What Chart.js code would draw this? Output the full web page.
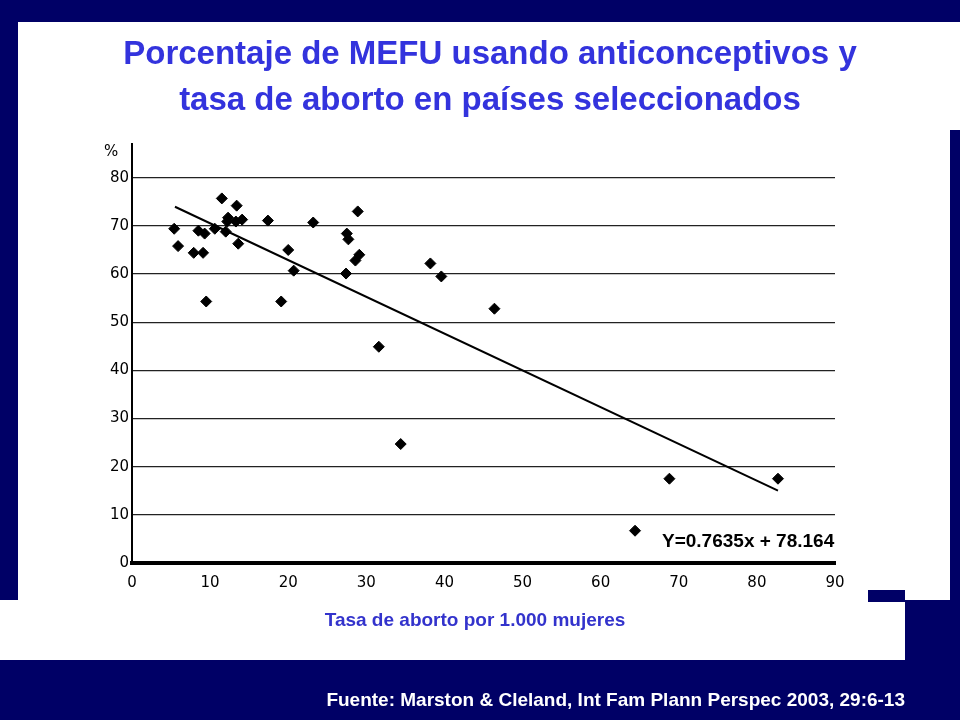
<!DOCTYPE html>
<html><head><meta charset="utf-8">
<script src="https://cdn.jsdelivr.net/npm/chart.js@4"></script>
<style>
body{margin:0;width:960px;height:720px;background:#000066;position:relative;overflow:hidden;font-family:Arial,"Liberation Sans",sans-serif}
.w{position:absolute;background:#fff}
#title{position:absolute;left:10px;top:30px;width:960px;text-align:center;color:#3333dd;font-weight:bold;font-size:33px;line-height:46px}
#eq{position:absolute;left:662px;top:530px;font-weight:bold;font-size:19px}
#xt{position:absolute;left:0;width:950px;top:609px;text-align:center;color:#3333cc;font-weight:bold;font-size:19px}
#src{position:absolute;right:55px;top:689px;color:#fff;font-weight:bold;font-size:19px}
#pct{position:absolute;left:104px;top:142px;font-size:15px;font-family:"DejaVu Sans",sans-serif}
canvas{position:absolute;left:0;top:0}
</style></head><body>
<div class="w" style="left:18px;top:22px;width:942px;height:108px"></div>
<div class="w" style="left:18px;top:22px;width:932px;height:578px"></div>
<div class="w" style="left:0;top:600px;width:905px;height:60px"></div>
<div class="w" style="left:868px;top:590px;width:37px;height:12px;background:#000066"></div>
<canvas id="c" width="960" height="720"></canvas>
<div id="title">Porcentaje de MEFU usando anticonceptivos y<br>tasa de aborto en países seleccionados</div>
<div id="pct">%</div>
<div id="eq">Y=0.7635x + 78.164</div>
<div id="xt">Tasa de aborto por 1.000 mujeres</div>
<div id="src">Fuente: Marston &amp; Cleland, Int Fam Plann Perspec 2003, 29:6-13</div>
<script>
const abortionRate = [5.4,5.9,7.9,8.5,9.1,9.3,9.5,10.6,11.5,12,12.3,12.2,13.4,13.6,13.3,14.1,17.4,20,20.7,19.1,23.2,27.5,27.7,27.4,28.9,28.6,29.1,31.6,34.4,38.2,39.6,46.4,64.4,68.8,82.7];
const contraUse    = [69.4,65.8,64.4,69,64.4,68.4,54.3,69.4,75.7,68.8,71.7,70.9,74.2,66.3,70.9,71.3,71.1,65,60.7,54.3,70.7,68.4,67.2,60.1,73,62.8,64,44.9,24.7,62.2,59.5,52.8,6.7,17.5,17.5];
const trendX = [5.5, 82.7];
const slope = -0.7635, intercept = 78.164;

const points = abortionRate.map((x, i) => ({x, y: contraUse[i]}));
const trend = trendX.map(x => ({x, y: intercept + slope * x}));

new Chart(document.getElementById('c'), {
  type: 'scatter',
  data: { datasets: [
    { data: points, pointStyle: 'rectRot', pointRadius: 5.5, backgroundColor: '#000', borderColor: '#000' },
    { type: 'line', data: trend, borderColor: '#000', borderWidth: 2, pointRadius: 0, fill: false }
  ]},
  options: {
    responsive: false, animation: false,
    layout: { padding: { left: 92, right: 125, top: 144, bottom: 127 } },
    plugins: { legend: { display: false }, tooltip: { enabled: false } },
    scales: {
      x: { min: 0, max: 90, ticks: { stepSize: 10, color: '#000', font: { size: 15, family: 'DejaVu Sans' } },
           grid: { display: false }, border: { color: '#000', width: 4 },
           afterFit: s => { s.height = 30; } },
      y: { min: 0, max: 87,
           afterBuildTicks: s => { s.ticks = s.ticks.filter(t => t.value % 10 === 0); },
           ticks: { stepSize: 10, color: '#000', font: { size: 15, family: 'DejaVu Sans' } },
           grid: { color: '#222', lineWidth: 1.2, drawTicks: false }, border: { color: '#000', width: 2 },
           afterFit: s => { s.width = 40; } }
    }
  }
});
</script>
</body></html>
